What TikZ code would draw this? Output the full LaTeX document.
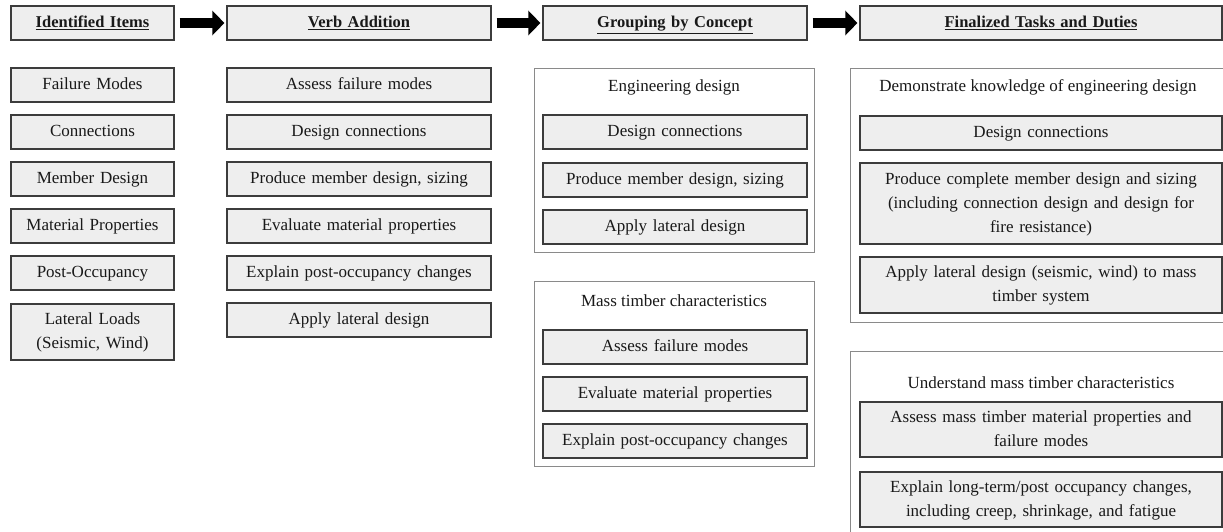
\documentclass[tikz,border=0pt]{standalone}
\usepackage{fontspec}
\setmainfont{Liberation Serif}
\usetikzlibrary{arrows.meta}
\definecolor{boxfill}{HTML}{EEEEEE}
\definecolor{boxline}{HTML}{3C3C3C}
\definecolor{groupline}{HTML}{8A8A8A}
\tikzset{
  item/.style = {draw=boxline, fill=boxfill, line width=1.2pt, inner sep=0pt,
    minimum height=34pt, align=center, text=black!90, font=\fontsize{17}{24}\selectfont,
    execute at begin node=\strut, execute at end node=\strut},
  head/.style = {item, font=\fontsize{16.5}{24}\selectfont\bfseries},
  group/.style = {draw=groupline, line width=1pt, inner sep=0pt},
  grouptitle/.style = {inner sep=0pt, text=black!90, font=\fontsize{17}{24}\selectfont},
  flow/.style = {line width=10pt, -{Triangle[length=12pt, width=24pt]},
    shorten <=5pt, shorten >=2pt}
}
\begin{document}
\begin{tikzpicture}[x=1pt, y=-1pt]
\useasboundingbox (0, 0) rectangle (1223, 531);
\clip (0, 0) rectangle (1223, 531);

% headers
\node[head, text width=163pt] (hdItems) at (92.5, 23) {\underline{Identified Items}};
\node[head, text width=264pt] (hdVerb) at (359, 23) {\underline{Verb Addition}};
\node[head, text width=264pt] (hdGroup) at (675, 23) {\underline{Grouping by Concept}};
\node[head, text width=362pt] (hdFinal) at (1041, 23) {\underline{Finalized Tasks and Duties}};
\draw[flow] (hdItems) -- (hdVerb);
\draw[flow] (hdVerb) -- (hdGroup);
\draw[flow] (hdGroup) -- (hdFinal);

% identified items
\foreach \txt [count=\i] in {Failure Modes, Connections, Member Design, Material Properties, Post-Occupancy}
    {\node[item, text width=163pt] (item\i) at (92.5, 85 + 47*\i - 47) {\txt};};
\node[item, text width=163pt, minimum height=56pt] (item6) at (92.5, 332) {Lateral Loads\\(Seismic, Wind)};

% verb addition
\foreach \txt [count=\i] in {Assess failure modes, Design connections, {Produce member design, sizing},
    Evaluate material properties, Explain post-occupancy changes, Apply lateral design}
    {\node[item, text width=264pt] (verb\i) at (359, 85 + 47*\i - 47) {\txt};};

% grouping by concept
\node[group, minimum width=280pt, minimum height=184pt] (grpEng) at (674, 160) {};
\node[grouptitle] (ttlEng) at (674, 87) {Engineering design};
\node[item, text width=264pt] (engA) at (675, 132) {Design connections};
\node[item, text width=264pt] (engB) at (675, 180) {Produce member design, sizing};
\node[item, text width=264pt] (engC) at (675, 227) {Apply lateral design};

\node[group, minimum width=280pt, minimum height=185pt] (grpMass) at (674, 373.5) {};
\node[grouptitle] (ttlMass) at (674, 301) {Mass timber characteristics};
\node[item, text width=264pt] (massA) at (675, 347) {Assess failure modes};
\node[item, text width=264pt] (massB) at (675, 394) {Evaluate material properties};
\node[item, text width=264pt] (massC) at (675, 441) {Explain post-occupancy changes};

% finalized tasks and duties
\node[group, minimum width=382pt, minimum height=254pt] (finEng) at (1041, 195) {};
\node[grouptitle] (ttlFinEng) at (1038, 87) {Demonstrate knowledge of engineering design};
\node[item, text width=362pt] (finA) at (1041, 133) {Design connections};
\node[item, text width=362pt, minimum height=81pt] (finB) at (1041, 203.5)
    {Produce complete member design and sizing\\(including connection design and design for\\fire resistance)};
\node[item, text width=362pt, minimum height=56pt] (finC) at (1041, 285)
    {Apply lateral design (seismic, wind) to mass\\timber system};

\node[group, minimum width=382pt, minimum height=189pt] (finMass) at (1041, 445.5) {};
\node[grouptitle] (ttlFinMass) at (1041, 383) {Understand mass timber characteristics};
\node[item, text width=362pt, minimum height=55pt] (finD) at (1041, 429.5)
    {Assess mass timber material properties and\\failure modes};
\node[item, text width=362pt, minimum height=55pt] (finE) at (1041, 499.5)
    {Explain long-term/post occupancy changes,\\including creep, shrinkage, and fatigue};
\end{tikzpicture}
\end{document}
